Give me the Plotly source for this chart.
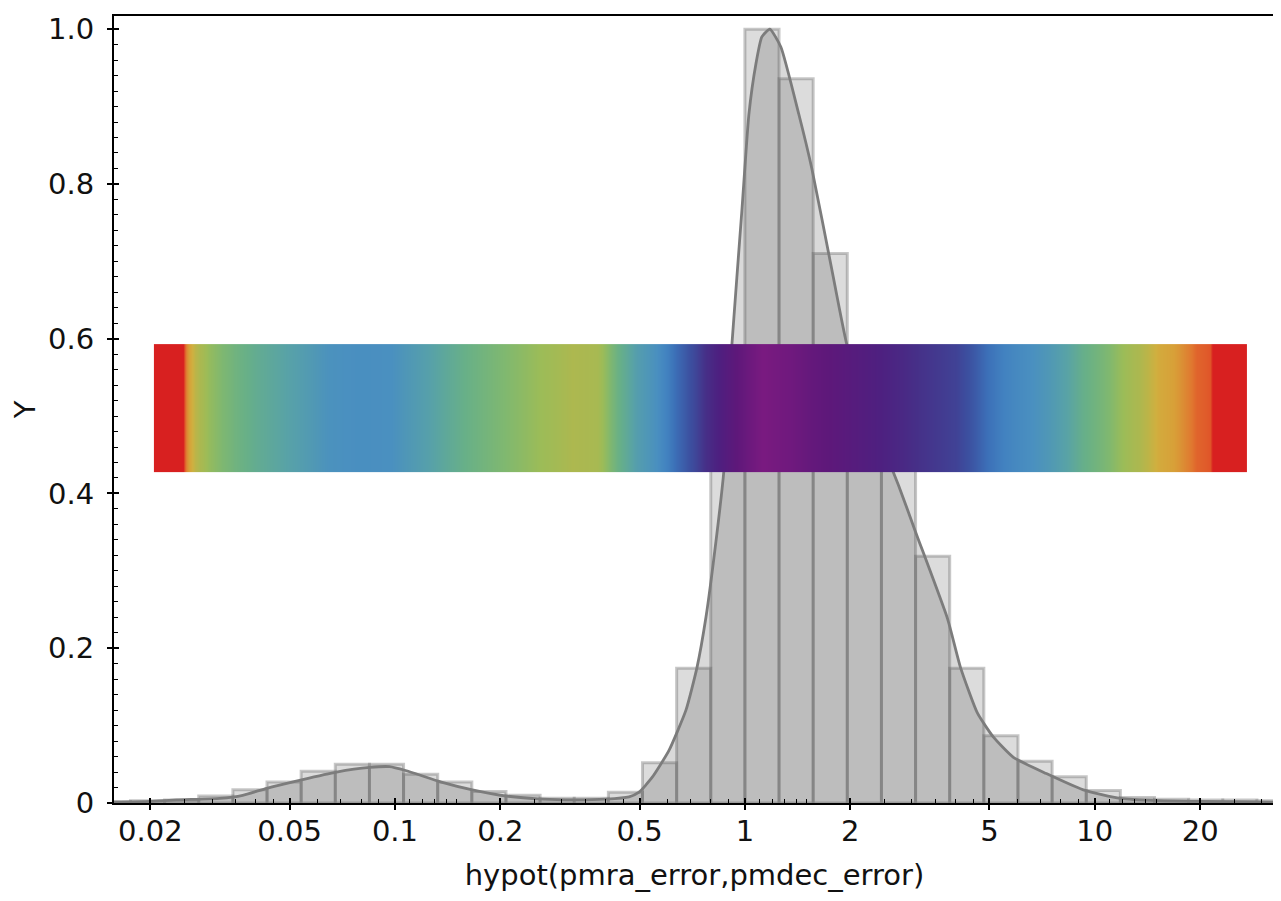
import numpy as np
import plotly.graph_objects as go

# ---------------- data ----------------
# histogram: log-spaced bins, edges at 10**(bin_dex * k)
bin_dex = 0.09755
first_bin = -19
hist_heights = [0.002, 0.003, 0.004, 0.009, 0.017, 0.027, 0.041, 0.050, 0.050, 0.037,
                0.027, 0.015, 0.010, 0.006, 0.006, 0.014, 0.052, 0.174, 0.48, 1.0,
                0.936, 0.71, 0.54, 0.44, 0.319, 0.174, 0.087, 0.054, 0.034, 0.016,
                0.007, 0.005, 0.004, 0.004, 0.003]

# KDE curve
kde_x = [0.01574, 0.01994, 0.02379, 0.03158, 0.03672, 0.04299, 0.05409, 0.06807, 0.08460,
         0.09645, 0.1072, 0.1357, 0.1664, 0.2080, 0.2635, 0.3251, 0.4013, 0.4667, 0.4984,
         0.5429, 0.6069, 0.6785, 0.7295, 0.7739, 0.8266, 0.8711, 0.9182, 0.9805, 1.0266,
         1.0750, 1.1180, 1.1783, 1.2670, 1.4260, 1.5533, 1.7706, 1.9544, 2.2000, 2.4600,
         2.7510, 3.0760, 3.7950, 4.1330, 4.6210, 5.1330, 5.8530, 7.2700, 9.2720, 11.820,
         15.180, 19.740, 32.73]
kde_y = [0.001, 0.002, 0.004, 0.006, 0.010, 0.019, 0.030, 0.040, 0.046,
         0.047, 0.042, 0.027, 0.017, 0.009, 0.005, 0.004, 0.005, 0.008, 0.014,
         0.033, 0.068, 0.12, 0.175, 0.24, 0.338, 0.43, 0.593, 0.766, 0.89,
         0.955, 0.99, 1.0, 0.977, 0.89, 0.82, 0.69, 0.593, 0.52, 0.465,
         0.41, 0.35, 0.238, 0.175, 0.116, 0.085, 0.059, 0.038, 0.017, 0.006,
         0.003, 0.002, 0.001]

# densogram band (colour = relative density)
band_range = [0.02047, 27.23]
band_y = [0.428, 0.593]
dens_x = [0.02214, 0.02428, 0.02492, 0.02593, 0.02787, 0.03095, 0.03973, 0.05099, 0.06546,
          0.07918, 0.09581, 0.1230, 0.1579, 0.2040, 0.2618, 0.3251, 0.3833, 0.4312, 0.4984,
          0.5572, 0.6315, 0.7153, 0.8102, 0.9426, 1.118, 1.353, 1.725, 2.492, 3.178,
          4.052, 4.935, 5.815, 7.418, 9.457, 10.71, 13.05, 15.38, 17.42, 19.61,
          21.64, 22.51, 25.67]
dens_val = [0.0008, 0.0010, 0.0019, 0.0030, 0.005, 0.010, 0.018, 0.027, 0.042,
            0.047, 0.045, 0.028, 0.016, 0.010, 0.0065, 0.0045, 0.005, 0.015, 0.030,
            0.045, 0.12, 0.20, 0.38, 0.66, 1.0, 0.85, 0.64, 0.44, 0.28,
            0.22, 0.12, 0.06, 0.035, 0.017, 0.010, 0.005, 0.003, 0.0025, 0.002,
            0.0019, 0.0010, 0.0008]

x_range = [0.01574, 32.73]
y_range = [0, 1.017]
x_tickvals = [0.02, 0.05, 0.1, 0.2, 0.5, 1, 2, 5, 10, 20]
x_ticktext = ["0.02", "0.05", "0.1", "0.2", "0.5", "1", "2", "5", "10", "20"]
x_minor = [0.025, 0.03, 0.035, 0.04, 0.045, 0.06, 0.07, 0.08, 0.09,
           0.11, 0.12, 0.13, 0.14, 0.15, 0.25, 0.3, 0.35, 0.4, 0.45,
           0.6, 0.7, 0.8, 0.9, 1.1, 1.2, 1.3, 1.4, 1.5, 2.5, 3, 3.5, 4, 4.5,
           6, 7, 8, 9, 11, 12, 13, 14, 15, 25, 30]
y_tickvals = [0, 0.2, 0.4, 0.6, 0.8, 1.0]
y_ticktext = ["0", "0.2", "0.4", "0.6", "0.8", "1.0"]

x_title = "hypot(pmra_error,pmdec_error)"
y_title = "Y"

# ---------------- figure ----------------
FONT = "DejaVu Sans"
TXT = "#111111"
FS = 29
fig = go.Figure()

bar_fill = "rgba(128,128,128,0.276)"
bar_line = "rgba(100,100,100,0.36)"
for j, h in enumerate(hist_heights):
    k = first_bin + j
    e0 = 10 ** (bin_dex * k)
    e1 = 10 ** (bin_dex * (k + 1))
    fig.add_trace(go.Scatter(
        x=[e0, e0, e1, e1, e0], y=[0, h, h, 0, 0],
        mode="lines", fill="toself", fillcolor=bar_fill,
        line=dict(color=bar_line, width=3),
        hoverinfo="skip", showlegend=False))

fig.add_trace(go.Scatter(
    x=kde_x, y=kde_y, mode="lines", fill="tozeroy",
    fillcolor="rgba(80,80,80,0.214)",
    line=dict(color="#7c7c7c", width=2.8, shape="spline", smoothing=0.5),
    hoverinfo="skip", showlegend=False))

# densogram band as heatmap (on an overlaid subplot so it sits above the bars)
lx = np.log10(dens_x)
mids = list(10 ** ((lx[:-1] + lx[1:]) / 2))
edges = [band_range[0]] + mids + [band_range[1]]
z = [list(np.log10(dens_val))]
colorscale = [[0.0, "#d82020"], [0.07, "#d82020"], [0.09, "#e05028"], [0.11, "#e07830"],
              [0.14, "#d8a038"], [0.17, "#d0b040"], [0.22, "#acb850"], [0.27, "#9cbc58"],
              [0.33, "#80b870"], [0.40, "#68b088"], [0.47, "#58a2a8"], [0.55, "#4a90c0"],
              [0.63, "#4282c0"], [0.69, "#3c70b8"], [0.75, "#3c50a0"], [0.82, "#463088"],
              [0.88, "#4e2080"], [0.94, "#5e187a"], [1.0, "#7a1a80"]]
fig.add_trace(go.Heatmap(
    x=edges, y=band_y, z=z, zmin=-3, zmax=0, colorscale=colorscale,
    zsmooth="best", showscale=False, hoverinfo="skip", xaxis="x2", yaxis="y2"))

xr = [np.log10(x_range[0]), np.log10(x_range[1])]

fig.update_layout(
    xaxis=dict(
        type="log", range=xr, showgrid=False, zeroline=False,
        showline=True, linecolor="black", linewidth=2, mirror=True,
        tickmode="array", tickvals=x_tickvals, ticktext=x_ticktext,
        ticks="outside", ticklen=5, tickwidth=1.5, tickcolor="black",
        ticklabelstandoff=-4,
        tickfont=dict(family=FONT, size=FS, color=TXT),
        minor=dict(tickmode="array", tickvals=x_minor, ticks="inside", ticklen=4,
                   tickwidth=1.2, tickcolor="black"),
        title=dict(text=x_title, font=dict(family=FONT, size=FS, color=TXT), standoff=18),
    ),
    yaxis=dict(
        range=y_range, showgrid=False, zeroline=False,
        showline=True, linecolor="black", linewidth=2, mirror=True,
        tickmode="array", tickvals=y_tickvals, ticktext=y_ticktext,
        ticks="outside", ticklen=5, tickwidth=1.5, tickcolor="black",
        ticklabelstandoff=7,
        tickfont=dict(family=FONT, size=FS, color=TXT),
        minor=dict(dtick=0.02, ticks="inside", ticklen=4, tickwidth=1.2, tickcolor="black"),
        title=dict(text=y_title, font=dict(family=FONT, size=FS, color=TXT), standoff=10),
    ),
    # overlay axes: carry the band and the inner half of the major ticks
    xaxis2=dict(
        type="log", range=xr, overlaying="x", anchor="y2", side="bottom",
        showgrid=False, zeroline=False, showline=False, showticklabels=False,
        tickmode="array", tickvals=x_tickvals,
        ticks="inside", ticklen=5, tickwidth=1.5, tickcolor="black",
    ),
    yaxis2=dict(
        range=y_range, overlaying="y", anchor="x2", side="left",
        showgrid=False, zeroline=False, showline=False, showticklabels=False,
        tickmode="array", tickvals=y_tickvals,
        ticks="inside", ticklen=5, tickwidth=1.5, tickcolor="black",
    ),
    width=1273, height=885,
    margin=dict(l=106, r=4, t=4, b=90),
    paper_bgcolor="white", plot_bgcolor="white",
    showlegend=False,
)

fig.write_html("out.html")
